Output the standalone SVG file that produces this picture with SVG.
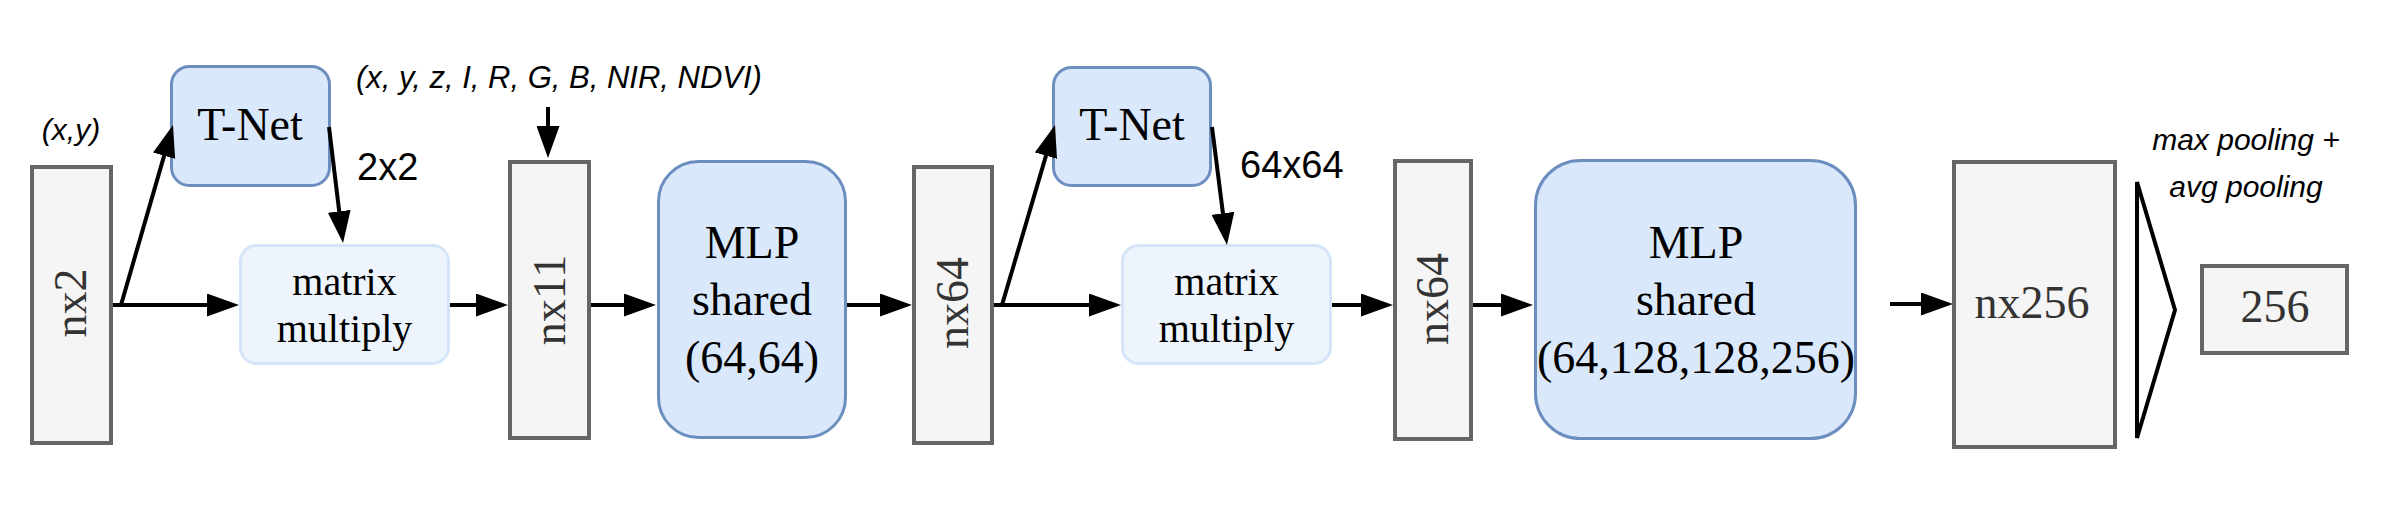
<svg xmlns="http://www.w3.org/2000/svg" width="2386" height="526" viewBox="0 0 2386 526">
<style>
.gray{fill:#f5f5f5;stroke:#666666;stroke-width:4}
.blue{fill:#dae8fc;stroke:#6c8ebf;stroke-width:3}
.light{fill:#edf4fb;stroke:#d4e4f9;stroke-width:3}
.serif{font-family:"Liberation Serif","Times New Roman",serif;text-anchor:middle;fill:#000}
.gt{font-family:"Liberation Serif","Times New Roman",serif;text-anchor:middle;fill:#333333;font-size:46px}
.lbl{font-family:"Liberation Sans",Arial,sans-serif;fill:#000}
.it{font-style:italic;font-size:30px}
.conn line{stroke:#000;stroke-width:4;marker-end:url(#ah)}
</style>
<defs>
<marker id="ah" markerUnits="userSpaceOnUse" markerWidth="32" markerHeight="23" refX="10" refY="11.5" orient="auto">
<path d="M0,0 L32,11.5 L0,23 z" fill="#000"/>
</marker>
</defs>
<rect width="2386" height="526" fill="#ffffff"/>

<g id="nx2"><rect class="gray" x="32" y="167" width="79" height="276"/><text class="gt" transform="translate(86,303) rotate(-90)">nx2</text></g>
<g id="tnet1"><rect class="blue" x="171.5" y="66.5" width="158" height="119" rx="18"/><text class="serif" x="250" y="140" font-size="46">T-Net</text></g>
<g id="mm1"><rect class="light" x="240.5" y="245.5" width="208" height="118" rx="16"/><text class="serif" x="344.5" y="295" font-size="40">matrix</text><text class="serif" x="344.5" y="342" font-size="40">multiply</text></g>
<g id="nx11"><rect class="gray" x="510" y="162" width="79" height="276"/><text class="gt" transform="translate(565,300) rotate(-90)">nx11</text></g>
<g id="mlp1"><rect class="blue" x="658.5" y="161.5" width="187" height="276" rx="40"/><text class="serif" x="752" y="258" font-size="46">MLP</text><text class="serif" x="752" y="315" font-size="46">shared</text><text class="serif" x="752" y="373" font-size="46">(64,64)</text></g>
<g id="nx64a"><rect class="gray" x="914" y="167" width="78" height="276"/><text class="gt" transform="translate(968,303) rotate(-90)">nx64</text></g>
<g id="tnet2"><rect class="blue" x="1053.5" y="67.5" width="157" height="118" rx="18"/><text class="serif" x="1132" y="140" font-size="46">T-Net</text></g>
<g id="mm2"><rect class="light" x="1122.5" y="245.5" width="208" height="118" rx="16"/><text class="serif" x="1226.5" y="295" font-size="40">matrix</text><text class="serif" x="1226.5" y="342" font-size="40">multiply</text></g>
<g id="nx64b"><rect class="gray" x="1395" y="161" width="76" height="278"/><text class="gt" transform="translate(1448,299) rotate(-90)">nx64</text></g>
<g id="mlp2"><rect class="blue" x="1535.5" y="160.5" width="320" height="278" rx="45"/><text class="serif" x="1696" y="258" font-size="46">MLP</text><text class="serif" x="1696" y="315" font-size="46">shared</text><text class="serif" x="1696" y="373" font-size="46">(64,128,128,256)</text></g>
<g id="nx256"><rect class="gray" x="1954" y="162" width="161" height="285"/><text class="gt" x="2032" y="318">nx256</text></g>
<g id="pool"><polygon points="2137,182 2175,310 2137,438" fill="#ffffff" stroke="#000" stroke-width="4" stroke-linejoin="miter"/></g>
<g id="out256"><rect class="gray" x="2202" y="266" width="145" height="87"/><text class="gt" x="2275" y="322">256</text></g>

<g id="labels">
<text class="lbl it" x="71" y="140" text-anchor="middle">(x,y)</text>
<text class="lbl it" x="356" y="88" font-size="31" style="font-size:31px">(x, y, z, I, R, G, B, NIR, NDVI)</text>
<text class="lbl" x="357" y="180" font-size="38">2x2</text>
<text class="lbl" x="1240" y="178" font-size="38">64x64</text>
<text class="lbl it" x="2246" y="150" text-anchor="middle">max pooling +</text>
<text class="lbl it" x="2246" y="197" text-anchor="middle">avg pooling</text>
</g>

<g id="connectors" class="conn">
<line x1="113" y1="305" x2="217" y2="305"/>
<line x1="121" y1="305" x2="166.9" y2="146.1"/>
<line x1="329" y1="127" x2="340.4" y2="221.2"/>
<line x1="450" y1="305" x2="486" y2="305"/>
<line x1="548" y1="107" x2="548" y2="136"/>
<line x1="591" y1="305" x2="634" y2="305"/>
<line x1="847" y1="305" x2="890" y2="305"/>
<line x1="994" y1="305" x2="1099" y2="305"/>
<line x1="1002" y1="305" x2="1048.8" y2="146.1"/>
<line x1="1212" y1="127" x2="1224.2" y2="223.2"/>
<line x1="1332" y1="305" x2="1371" y2="305"/>
<line x1="1473" y1="305" x2="1511" y2="305"/>
<line x1="1890" y1="304" x2="1931" y2="304"/>
</g>
</svg>
